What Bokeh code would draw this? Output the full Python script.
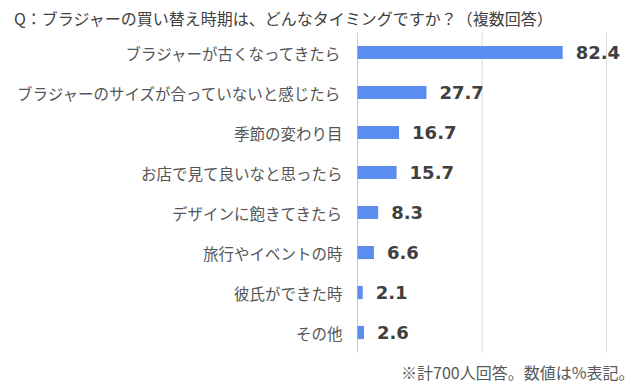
from bokeh.plotting import figure
from bokeh.models import ColumnDataSource, Range1d
from bokeh.core.properties import value
from bokeh.embed import file_html
from bokeh.resources import INLINE

categories = [
    "ブラジャーが古くなってきたら",
    "ブラジャーのサイズが合っていないと感じたら",
    "季節の変わり目",
    "お店で見て良いなと思ったら",
    "デザインに飽きてきたら",
    "旅行やイベントの時",
    "彼氏ができた時",
    "その他",
]
values = [82.4, 27.7, 16.7, 15.7, 8.3, 6.6, 2.1, 2.6]
value_labels = ["82.4", "27.7", "16.7", "15.7", "8.3", "6.6", "2.1", "2.6"]
x_ticks = [0, 50, 100]
title_text = "Q：ブラジャーの買い替え時期は、どんなタイミングですか？（複数回答）"
note_text = "※計700人回答。数値は%表記。"

W, H = 638, 386
n = len(categories)
# the frame covers the whole canvas; value axis 0..100 spans page x 357..606,
# each category band is 40px tall, category area spans page y 32..352
PX_PER_UNIT = 2.49
X0, YB, BAND = 357, 352, 40
x_start = -X0 / PX_PER_UNIT
x_end = (W - X0) / PX_PER_UNIT
y_start = (YB - H) / BAND
y_end = YB / BAND

p = figure(
    width=W, height=H,
    x_range=Range1d(x_start, x_end), y_range=Range1d(y_start, y_end),
    x_axis_location=None, y_axis_location=None,
    output_backend="svg", toolbar_location=None,
    min_border=0,
)
p.outline_line_color = None
p.background_fill_color = "white"
p.border_fill_color = "white"
p.grid.visible = False

ypos = [n - 0.5 - i for i in range(n)]
src = ColumnDataSource(dict(cat=categories, val=values, lab=value_labels, y=ypos))

# grid lines and axis line
p.segment(x0=x_ticks[1:], x1=x_ticks[1:], y0=[0] * (len(x_ticks) - 1),
          y1=[n] * (len(x_ticks) - 1), line_color="#d9d9d9", line_width=1)
p.segment(x0=[0], x1=[0], y0=[0], y1=[n], line_color="#d0d0d0", line_width=1.2)

p.hbar(y="y", right="val", left=0, height=0.33, source=src,
       fill_color="#5B8DEF", line_color=None)

p.text(x="val", y="y", text="lab", source=src, x_offset=13,
       text_font=value("DejaVu Sans"), text_font_style="bold",
       text_font_size="18px", text_color="#404040",
       text_baseline="middle", text_align="left")

p.text(x=-6.0, y="y", text="cat", source=src,
       text_font=value("Noto Sans CJK JP"), text_font_size="15.5px",
       text_color="#555555", text_baseline="middle", text_align="right")

p.text(x=[-138.0], y=[(YB - 17) / BAND], text=[title_text],
       text_font=value("Noto Sans CJK JP"), text_font_size="16px",
       text_color="#404040", text_baseline="middle", text_align="left")
p.text(x=[111.2], y=[(YB - 371) / BAND], text=[note_text],
       text_font=value("Noto Sans CJK JP"), text_font_size="16px",
       text_color="#595959", text_baseline="middle", text_align="right")

open("out.html", "w").write(file_html(p, INLINE))
